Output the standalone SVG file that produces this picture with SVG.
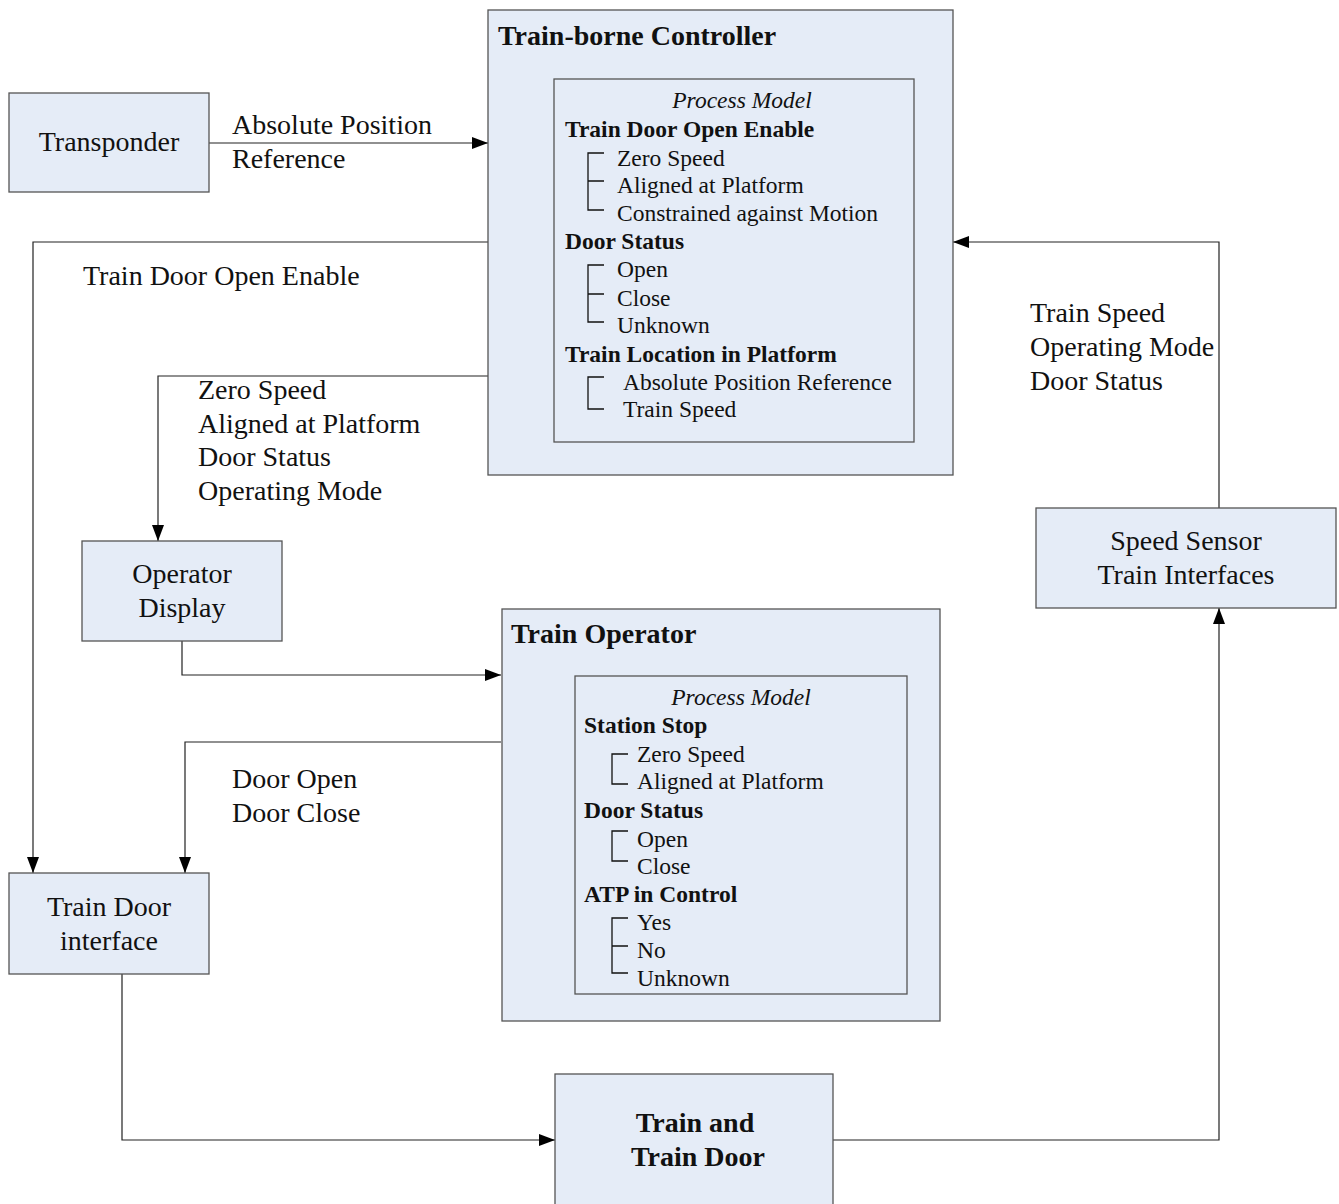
<svg xmlns="http://www.w3.org/2000/svg" width="1339" height="1204" viewBox="0 0 1339 1204">
  <style>
    .box { fill: #E5ECF7; stroke: #555; stroke-width: 1.3; }
    .inner { fill: #E5ECF7; stroke: #555; stroke-width: 1.3; }
    .wire { fill: none; stroke: #222; stroke-width: 1.2; }
    .brk { fill: none; stroke: #111; stroke-width: 1.3; }
    text { font-family: "Liberation Serif", "Times New Roman", serif; fill: #111; }
    .lbl { font-size: 28px; }
    .title { font-size: 28px; font-weight: bold; }
    .pm { font-size: 23.5px; font-style: italic; }
    .hd { font-size: 23.5px; font-weight: bold; }
    .it { font-size: 23.5px; }
    .mid { text-anchor: middle; }
  </style>
  <defs>
    <marker id="arrow" viewBox="0 0 16 12" refX="16" refY="6" markerWidth="16" markerHeight="12" markerUnits="userSpaceOnUse" orient="auto">
      <path d="M0,0 L16,6 L0,12 z" fill="#000"/>
    </marker>
  </defs>

  <!-- connectors -->
  <g id="connectors">
    <path class="wire" d="M209,143 H488" marker-end="url(#arrow)"/>
    <path class="wire" d="M488,242 H33 V873" marker-end="url(#arrow)"/>
    <path class="wire" d="M488,376 H158 V541" marker-end="url(#arrow)"/>
    <path class="wire" d="M182,641 V675 H501" marker-end="url(#arrow)"/>
    <path class="wire" d="M501,742 H185 V873" marker-end="url(#arrow)"/>
    <path class="wire" d="M122,974 V1140 H555" marker-end="url(#arrow)"/>
    <path class="wire" d="M833,1140 H1219 V608" marker-end="url(#arrow)"/>
    <path class="wire" d="M1219,508 V242 H953" marker-end="url(#arrow)"/>

    <text class="lbl" x="232" y="134">Absolute Position</text>
    <text class="lbl" x="232" y="168">Reference</text>
    <text class="lbl" x="83" y="285">Train Door Open Enable</text>
    <text class="lbl" x="198" y="399">Zero Speed</text>
    <text class="lbl" x="198" y="433">Aligned at Platform</text>
    <text class="lbl" x="198" y="466">Door Status</text>
    <text class="lbl" x="198" y="500">Operating Mode</text>
    <text class="lbl" x="232" y="788">Door Open</text>
    <text class="lbl" x="232" y="822">Door Close</text>
    <text class="lbl" x="1030" y="322">Train Speed</text>
    <text class="lbl" x="1030" y="356">Operating Mode</text>
    <text class="lbl" x="1030" y="390">Door Status</text>
  </g>

  <!-- Transponder -->
  <g id="transponder">
    <rect class="box" x="9" y="93" width="200" height="99"/>
    <text class="lbl mid" x="109" y="151">Transponder</text>
  </g>

  <!-- Train-borne Controller -->
  <g id="train-borne-controller">
    <rect class="box" x="488" y="10" width="465" height="465"/>
    <text class="title" x="498" y="45">Train-borne Controller</text>
    <rect class="inner" x="554" y="79" width="360" height="363"/>
    <text class="pm mid" x="742" y="108">Process Model</text>
    <text class="hd" x="565" y="137">Train Door Open Enable</text>
    <path class="brk" d="M604,153 H588 V210 H604 M588,181 H604"/>
    <text class="it" x="617" y="166">Zero Speed</text>
    <text class="it" x="617" y="193">Aligned at Platform</text>
    <text class="it" x="617" y="221">Constrained against Motion</text>
    <text class="hd" x="565" y="249">Door Status</text>
    <path class="brk" d="M604,265 H588 V322 H604 M588,294 H604"/>
    <text class="it" x="617" y="277">Open</text>
    <text class="it" x="617" y="306">Close</text>
    <text class="it" x="617" y="333">Unknown</text>
    <text class="hd" x="565" y="362">Train Location in Platform</text>
    <path class="brk" d="M604,377 H588 V409 H604"/>
    <text class="it" x="623" y="390">Absolute Position Reference</text>
    <text class="it" x="623" y="417">Train Speed</text>
  </g>

  <!-- Operator Display -->
  <g id="operator-display">
    <rect class="box" x="82" y="541" width="200" height="100"/>
    <text class="lbl mid" x="182" y="583">Operator</text>
    <text class="lbl mid" x="182" y="617">Display</text>
  </g>

  <!-- Train Operator -->
  <g id="train-operator">
    <rect class="box" x="502" y="609" width="438" height="412"/>
    <text class="title" x="511" y="643">Train Operator</text>
    <rect class="inner" x="575" y="676" width="332" height="318"/>
    <text class="pm mid" x="741" y="705">Process Model</text>
    <text class="hd" x="584" y="733">Station Stop</text>
    <path class="brk" d="M628,754 H612 V784 H628"/>
    <text class="it" x="637" y="762">Zero Speed</text>
    <text class="it" x="637" y="789">Aligned at Platform</text>
    <text class="hd" x="584" y="818">Door Status</text>
    <path class="brk" d="M628,831 H612 V861 H628"/>
    <text class="it" x="637" y="847">Open</text>
    <text class="it" x="637" y="874">Close</text>
    <text class="hd" x="584" y="902">ATP in Control</text>
    <path class="brk" d="M628,918 H612 V973 H628 M612,946 H628"/>
    <text class="it" x="637" y="930">Yes</text>
    <text class="it" x="637" y="958">No</text>
    <text class="it" x="637" y="986">Unknown</text>
  </g>

  <!-- Train Door interface -->
  <g id="train-door-interface">
    <rect class="box" x="9" y="873" width="200" height="101"/>
    <text class="lbl mid" x="109" y="916">Train Door</text>
    <text class="lbl mid" x="109" y="950">interface</text>
  </g>

  <!-- Train and Train Door -->
  <g id="train-and-door">
    <rect class="box" x="555" y="1074" width="278" height="140"/>
    <text class="title mid" x="695" y="1132">Train and</text>
    <text class="title mid" x="698" y="1166">Train Door</text>
  </g>

  <!-- Speed Sensor / Train Interfaces -->
  <g id="speed-sensor">
    <rect class="box" x="1036" y="508" width="300" height="100"/>
    <text class="lbl mid" x="1186" y="550">Speed Sensor</text>
    <text class="lbl mid" x="1186" y="584">Train Interfaces</text>
  </g>
</svg>
